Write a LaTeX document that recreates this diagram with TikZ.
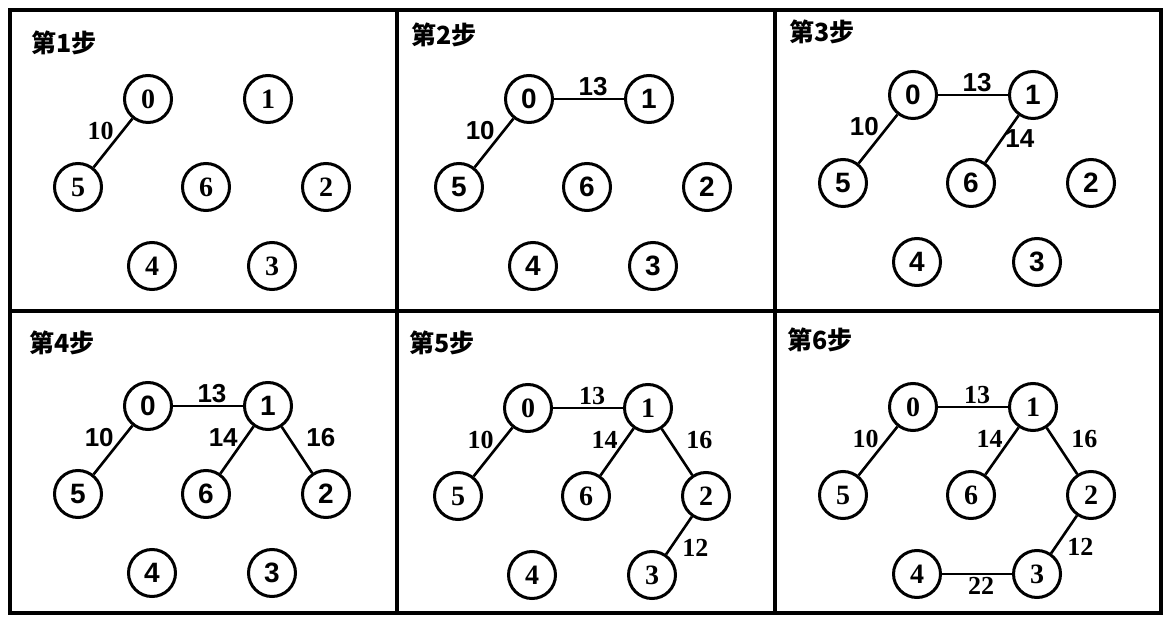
\documentclass[tikz,border=0pt]{standalone}
\usepackage{fontspec}
\setmainfont{Liberation Serif}
\newfontfamily\arialfont{Liberation Sans}
\newfontfamily\cjk{Noto Sans CJK SC}
\usetikzlibrary{positioning}

% the seven vertices of one step, named <prefix><number>
\newcommand\vertexset[1]{%
  \foreach \n/\a/\b in {0/134/93, 1/254/93, 5/64/181, 6/192/181, 2/312/181, 4/138/260, 3/258/260}
    \node[vertex] (#1\n) at (\a,\b) {\n};}

\begin{document}
\begin{tikzpicture}[
    x=0.5pt, y=-0.5pt,
    vertex/.style={draw, circle, line width=1.5pt, minimum size=23.5pt, inner sep=0pt,
      execute at begin node=\fontsize{14}{16}\selectfont\bfseries},
    edge/.style={line width=1.3pt},
    frame/.style={line width=1.8pt},
    weight/.style={inner sep=1pt, execute at begin node=\fontsize{13}{15}\selectfont\bfseries},
    upleft/.style={weight, anchor=south east, xshift=2pt},
    upright/.style={weight, anchor=south west, xshift=3pt},
    onright/.style={weight, anchor=west},
    lowright/.style={weight, anchor=north west},
    ontop/.style={weight, anchor=south, xshift=2pt},
    underneath/.style={weight, anchor=north, xshift=2pt},
    steptitle/.style={anchor=west, inner sep=0pt, font=\cjk\bfseries\fontsize{12.5}{14}\selectfont},
    serifpanel/.style={font=\rmfamily},
    sanspanel/.style={font=\arialfont}
]
\useasboundingbox[fill=white] (0,0) rectangle (1165,619);

% grid
\draw[frame] (10,10) rectangle (1161,613);
\draw[frame] (397,10) -- (397,613);
\draw[frame] (775,10) -- (775,613);
\draw[frame] (10,311) -- (1161,311);

% step titles
\node[steptitle] (t1) at (31,43) {第1步};
\node[steptitle] (t2) at (411,35) {第2步};
\node[steptitle] (t3) at (789,32) {第3步};
\node[steptitle] (t4) at (29,343) {第4步};
\node[steptitle] (t5) at (409,343) {第5步};
\node[steptitle] (t6) at (787,340) {第6步};

% step 1
\begin{scope}[shift={(14,6)}, serifpanel]
  \vertexset{a}
  \draw[edge] (a0) -- node[upleft] {10} (a5);
\end{scope}

% step 2
\begin{scope}[shift={(395,6)}, sanspanel]
  \vertexset{b}
  \draw[edge] (b0) -- node[upleft] {10} (b5);
  \draw[edge] (b0) -- node[ontop] {13} (b1);
\end{scope}

% step 3
\begin{scope}[shift={(779,2)}, sanspanel]
  \vertexset{c}
  \draw[edge] (c0) -- node[upleft] {10} (c5);
  \draw[edge] (c0) -- node[ontop] {13} (c1);
  \draw[edge] (c1) -- node[onright] {14} (c6);
\end{scope}

% step 4
\begin{scope}[shift={(14,313)}, sanspanel]
  \vertexset{d}
  \draw[edge] (d0) -- node[upleft] {10} (d5);
  \draw[edge] (d0) -- node[ontop] {13} (d1);
  \draw[edge] (d1) -- node[upleft] {14} (d6);
  \draw[edge] (d1) -- node[upright] {16} (d2);
\end{scope}

% step 5
\begin{scope}[shift={(394,315)}, serifpanel]
  \vertexset{e}
  \draw[edge] (e0) -- node[upleft] {10} (e5);
  \draw[edge] (e0) -- node[ontop] {13} (e1);
  \draw[edge] (e1) -- node[upleft] {14} (e6);
  \draw[edge] (e1) -- node[upright] {16} (e2);
  \draw[edge] (e2) -- node[lowright] {12} (e3);
\end{scope}

% step 6
\begin{scope}[shift={(779,314)}, serifpanel]
  \vertexset{f}
  \draw[edge] (f0) -- node[upleft] {10} (f5);
  \draw[edge] (f0) -- node[ontop] {13} (f1);
  \draw[edge] (f1) -- node[upleft] {14} (f6);
  \draw[edge] (f1) -- node[upright] {16} (f2);
  \draw[edge] (f2) -- node[lowright] {12} (f3);
  \draw[edge] (f4) -- node[underneath] {22} (f3);
\end{scope}
\end{tikzpicture}
\end{document}
